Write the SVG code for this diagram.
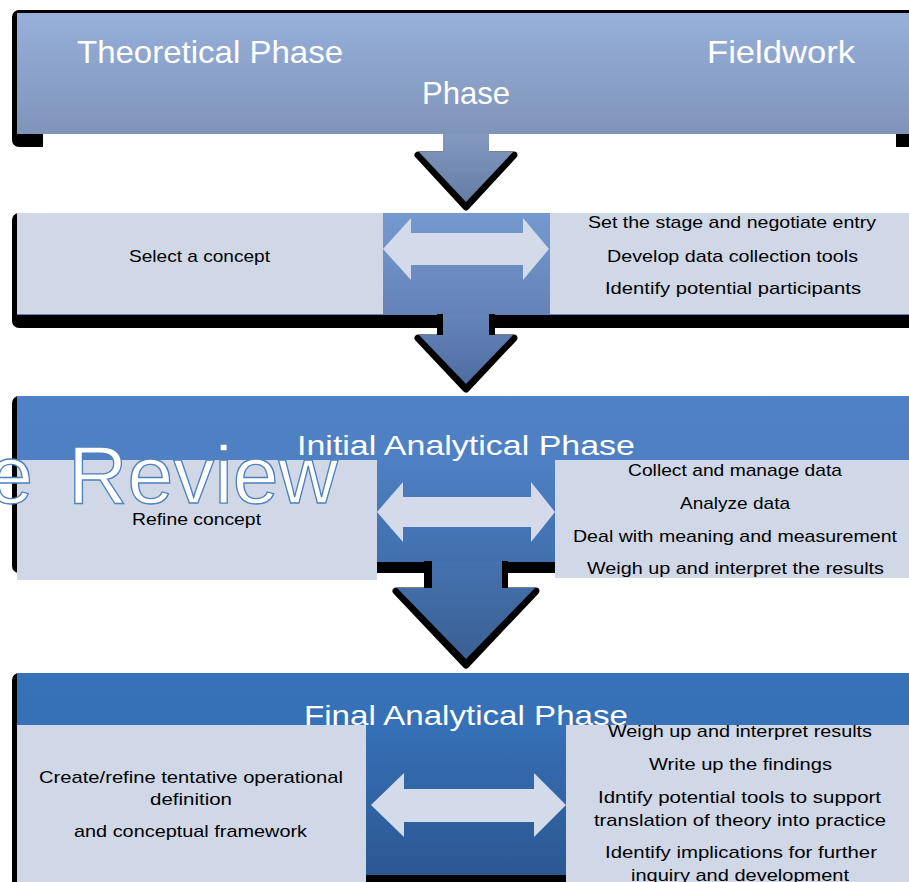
<svg xmlns="http://www.w3.org/2000/svg" width="909" height="882" viewBox="0 0 909 882">
<defs>
<linearGradient id="g1" gradientUnits="userSpaceOnUse" x1="0" y1="13" x2="0" y2="134"><stop offset="0" stop-color="#97b0da"/><stop offset="1" stop-color="#7f94b9"/></linearGradient>
<linearGradient id="ga1" gradientUnits="userSpaceOnUse" x1="0" y1="134" x2="0" y2="204"><stop offset="0" stop-color="#8399c0"/><stop offset="1" stop-color="#647ba3"/></linearGradient>
<linearGradient id="g2" gradientUnits="userSpaceOnUse" x1="0" y1="213" x2="0" y2="315"><stop offset="0" stop-color="#759ad0"/><stop offset="1" stop-color="#6582b6"/></linearGradient>
<linearGradient id="ga2" gradientUnits="userSpaceOnUse" x1="0" y1="315" x2="0" y2="385"><stop offset="0" stop-color="#6584b8"/><stop offset="1" stop-color="#4e6c9f"/></linearGradient>
<linearGradient id="g3" gradientUnits="userSpaceOnUse" x1="0" y1="396" x2="0" y2="562"><stop offset="0" stop-color="#4f82c5"/><stop offset="0.38" stop-color="#4e80c3"/><stop offset="1" stop-color="#416fae"/></linearGradient>
<linearGradient id="ga3" gradientUnits="userSpaceOnUse" x1="0" y1="562" x2="0" y2="660"><stop offset="0" stop-color="#4472ae"/><stop offset="1" stop-color="#3b5f94"/></linearGradient>
<linearGradient id="g4" gradientUnits="userSpaceOnUse" x1="0" y1="673" x2="0" y2="875"><stop offset="0" stop-color="#3771b8"/><stop offset="0.26" stop-color="#3670b6"/><stop offset="1" stop-color="#2b5892"/></linearGradient>
</defs>
<style>
.sh{fill:#000}
.pn{fill:#d0d8e8}
.da{fill:#d3dbea}
.t{font-family:"Liberation Sans",Arial,sans-serif;font-size:17px;fill:#000}
.h{font-family:"Liberation Sans",Arial,sans-serif;fill:#fff}
.hs{stroke:#000;stroke-width:7;stroke-linejoin:round;fill:#000}
</style>

<g id="row1">
<rect class="sh" x="12" y="10" width="912" height="137" rx="7"/>
<rect x="43" y="134" width="853" height="14" fill="#fff"/>
<rect x="17" y="13" width="892" height="121" fill="url(#g1)"/>
<text class="h" x="77" y="63" font-size="32" textLength="266" lengthAdjust="spacingAndGlyphs">Theoretical Phase</text>
<text class="h" x="707" y="63" font-size="32" textLength="148" lengthAdjust="spacingAndGlyphs">Fieldwork</text>
<text class="h" x="422" y="104" font-size="32" textLength="88" lengthAdjust="spacingAndGlyphs">Phase</text>
</g>

<g id="row2">
<rect class="sh" x="12" y="213" width="912" height="115" rx="7"/>
<rect x="17" y="213" width="892" height="102" fill="url(#g2)"/>
<rect class="pn" x="17" y="213" width="366" height="101"/>
<rect class="pn" x="550" y="213" width="359" height="101"/>
<text class="t" x="129" y="262" textLength="141" lengthAdjust="spacingAndGlyphs">Select a concept</text>
<text class="t" x="588" y="228" textLength="288" lengthAdjust="spacingAndGlyphs">Set the stage and negotiate entry</text>
<text class="t" x="607" y="262" textLength="251" lengthAdjust="spacingAndGlyphs">Develop data collection tools</text>
<text class="t" x="605" y="294" textLength="256" lengthAdjust="spacingAndGlyphs">Identify potential participants</text>
</g>

<g id="row3">
<rect class="sh" x="12" y="396" width="912" height="177" rx="7"/>
<rect x="17" y="396" width="892" height="166" fill="url(#g3)"/>
<text class="h" x="297" y="455" font-size="28" textLength="338" lengthAdjust="spacingAndGlyphs">Initial Analytical Phase</text>
<rect class="pn" x="17" y="460" width="360" height="120"/>
<rect class="pn" x="555" y="460" width="354" height="118"/>
<text class="t" x="132" y="525" textLength="129" lengthAdjust="spacingAndGlyphs">Refine concept</text>
<text class="t" x="628" y="476" textLength="214" lengthAdjust="spacingAndGlyphs">Collect and manage data</text>
<text class="t" x="680" y="509" textLength="110" lengthAdjust="spacingAndGlyphs">Analyze data</text>
<text class="t" x="573" y="542" textLength="324" lengthAdjust="spacingAndGlyphs">Deal with meaning and measurement</text>
<text class="t" x="587" y="574" textLength="297" lengthAdjust="spacingAndGlyphs">Weigh up and interpret the results</text>
</g>

<g id="row4">
<rect class="sh" x="12" y="673" width="912" height="220" rx="7"/>
<rect x="17" y="673" width="892" height="202" fill="url(#g4)"/>
<text class="h" x="304" y="725" font-size="28" textLength="324" lengthAdjust="spacingAndGlyphs">Final Analytical Phase</text>
<rect class="pn" x="17" y="725" width="349" height="157"/>
<rect class="pn" x="566" y="725" width="343" height="157"/>
<text class="t" x="39" y="783" textLength="304" lengthAdjust="spacingAndGlyphs">Create/refine tentative operational</text>
<text class="t" x="150" y="805" textLength="82" lengthAdjust="spacingAndGlyphs">definition</text>
<text class="t" x="74" y="837" textLength="233" lengthAdjust="spacingAndGlyphs">and conceptual framework</text>
<text class="t" x="608" y="737" textLength="264" lengthAdjust="spacingAndGlyphs">Weigh up and interpret results</text>
<text class="t" x="649" y="770" textLength="183" lengthAdjust="spacingAndGlyphs">Write up the findings</text>
<text class="t" x="598" y="803" textLength="283" lengthAdjust="spacingAndGlyphs">Idntify potential tools to support</text>
<text class="t" x="594" y="826" textLength="292" lengthAdjust="spacingAndGlyphs">translation of theory into practice</text>
<text class="t" x="605" y="858" textLength="272" lengthAdjust="spacingAndGlyphs">Identify implications for further</text>
<text class="t" x="631" y="881" textLength="218" lengthAdjust="spacingAndGlyphs">inquiry and development</text>
</g>

<g id="connectors">
<!-- down arrow 1 -->
<polygon class="hs" points="418,155 514,155 466,207"/>
<rect x="443" y="134" width="46" height="19" fill="url(#ga1)"/>
<polygon points="419,152 513,152 466,202" fill="url(#ga1)"/>
<!-- down arrow 2 -->
<rect class="sh" x="437" y="314" width="58" height="22"/>
<polygon class="hs" points="418,338 514,338 466,389"/>
<rect x="443" y="314" width="46" height="22" fill="url(#ga2)"/>
<polygon points="419,335 513,335 466,384" fill="url(#ga2)"/>
<!-- down arrow 3 -->
<rect class="sh" x="424" y="561" width="84" height="29"/>
<polygon class="hs" points="396,591 536,591 466,665"/>
<rect x="432" y="561" width="70" height="29" fill="url(#ga3)"/>
<polygon points="397,588 535,588 466,659" fill="url(#ga3)"/>
<!-- double arrows -->
<polygon class="da" points="383,249 411,218 411,233 523,233 523,218 549,249 523,280 523,265 411,265 411,280"/>
<polygon class="da" points="377,512 403,482 403,497 531,497 531,482 555,512 531,542 531,527 403,527 403,542"/>
<polygon class="da" points="371,805 404,773 404,789 534,789 534,773 566,805 534,837 534,822 404,822 404,837"/>
</g>

<g id="watermark">
<text font-family="Liberation Sans, Arial, sans-serif" font-size="81" fill="#fff" stroke="#4f81bd" stroke-width="1.3"><tspan x="-12" y="503">e </tspan><tspan x="68" y="503" textLength="270" lengthAdjust="spacingAndGlyphs">Review</tspan></text>
</g>
</svg>
